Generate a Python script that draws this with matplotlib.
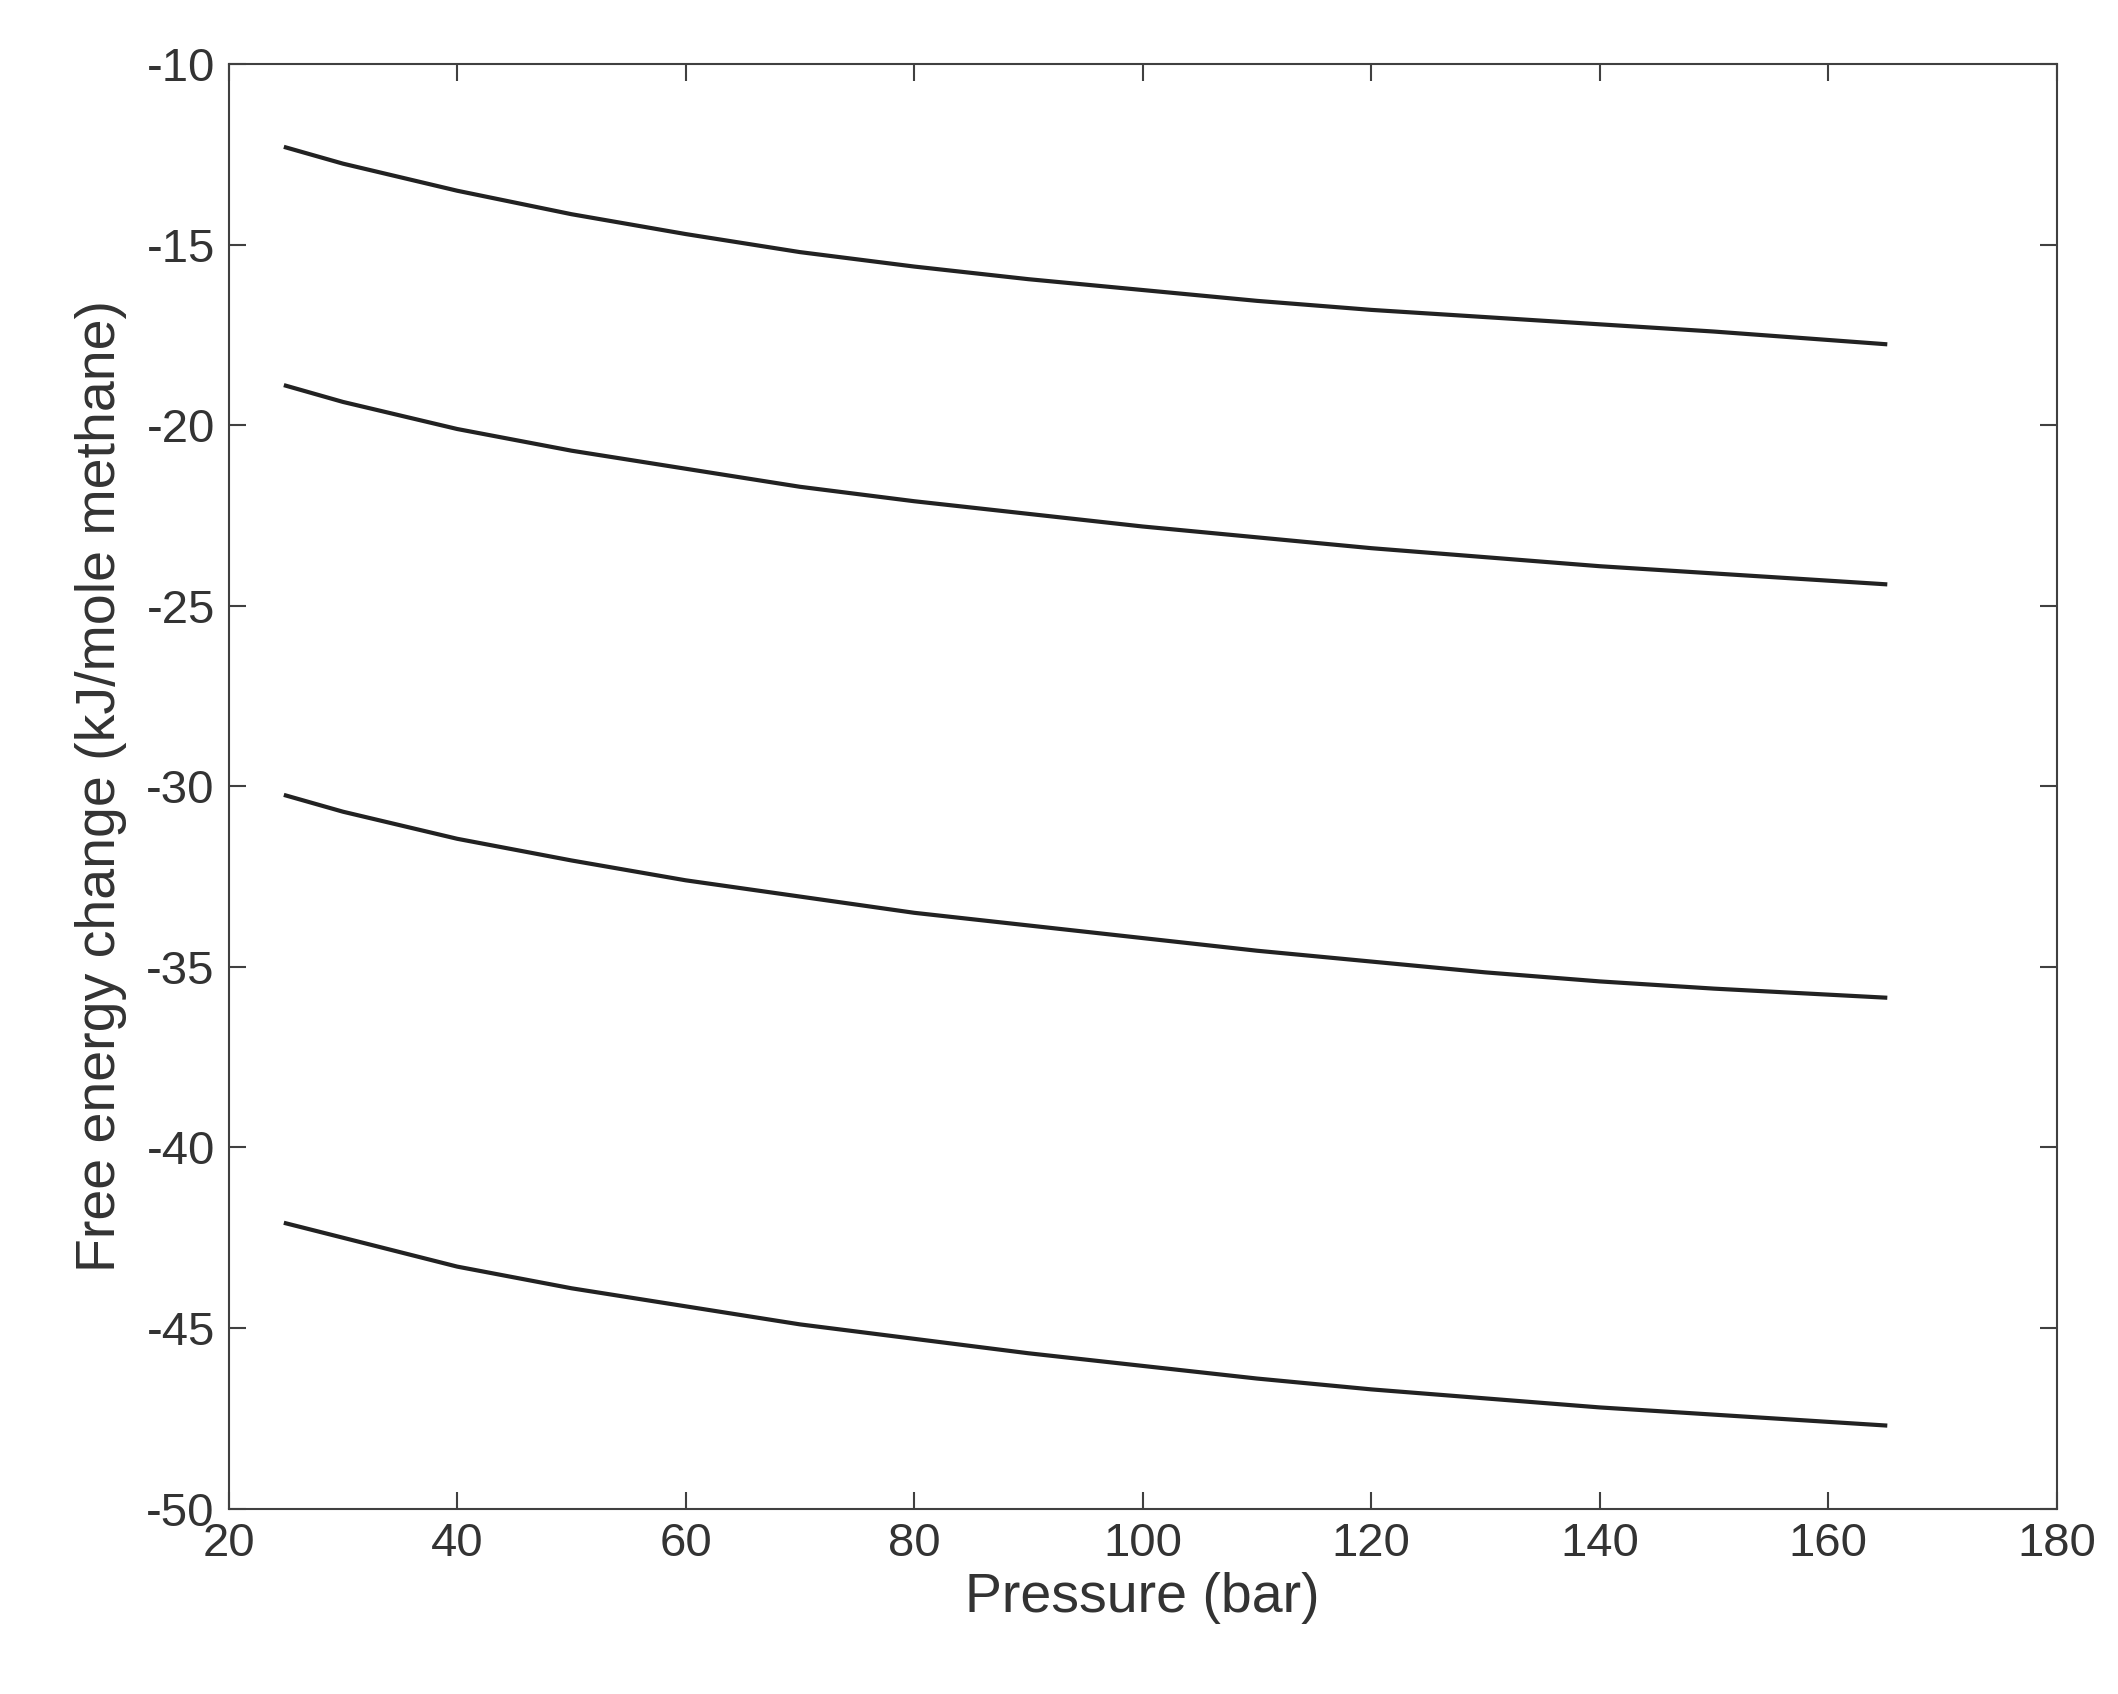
import matplotlib.pyplot as plt

plt.rcParams['font.family'] = ['Liberation Sans', 'DejaVu Sans']
plt.rcParams['axes.unicode_minus'] = False

pressure = [25, 30, 40, 50, 60, 70, 80, 90, 100, 110, 120, 130, 140, 150, 165]
curve_a = [-12.3, -12.75, -13.5, -14.15, -14.7, -15.2, -15.6, -15.95, -16.25,
           -16.55, -16.8, -17.0, -17.2, -17.4, -17.75]
curve_b = [-18.9, -19.35, -20.1, -20.7, -21.2, -21.7, -22.1, -22.45, -22.8,
           -23.1, -23.4, -23.65, -23.9, -24.1, -24.4]
curve_c = [-30.25, -30.7, -31.45, -32.05, -32.6, -33.05, -33.5, -33.85, -34.2,
           -34.55, -34.85, -35.15, -35.4, -35.6, -35.85]
curve_d = [-42.1, -42.5, -43.3, -43.9, -44.4, -44.9, -45.3, -45.7, -46.05,
           -46.4, -46.7, -46.95, -47.2, -47.4, -47.7]

fig = plt.figure(figsize=(21.18, 16.94), dpi=100)
ax = fig.add_axes([0.108, 0.1095, 0.863, 0.8525])

for c in (curve_a, curve_b, curve_c, curve_d):
    ax.plot(pressure, c, color='#222222', linewidth=3)

ax.set_xlim(20, 180)
ax.set_ylim(-50, -10)
ax.set_xticks(range(20, 181, 20))
ax.set_yticks(range(-50, -9, 5))
ax.tick_params(direction='in', length=12, width=1.5, labelsize=34,
               colors='#404040', labelcolor='#333333', top=True, right=True, pad=10)
for s in ax.spines.values():
    s.set_color('#404040')
    s.set_linewidth(1.5)

ax.set_xlabel('Pressure (bar)', fontsize=40, color='#333333', labelpad=4)
ax.set_ylabel('Free energy change (kJ/mole methane)', fontsize=40, color='#333333', labelpad=14)

fig.savefig('out.png')
